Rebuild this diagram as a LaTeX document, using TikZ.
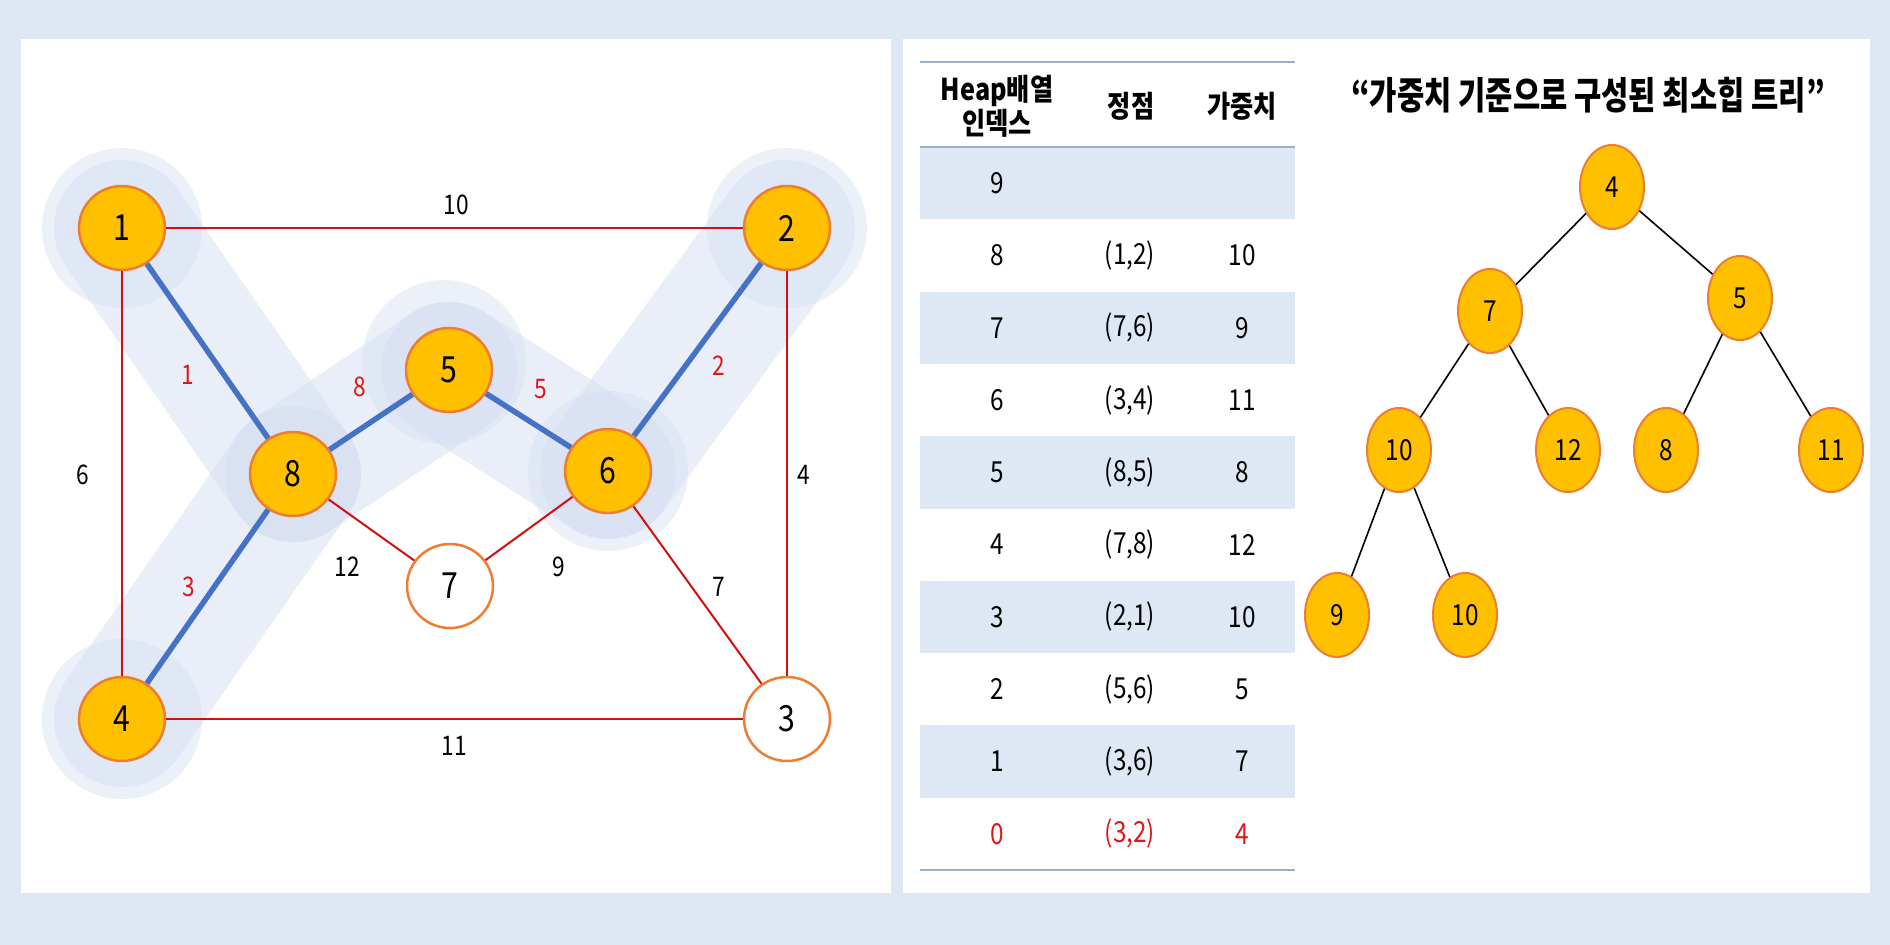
\documentclass[tikz,border=0pt]{standalone}
\usepackage{fontspec}
\setmainfont{Noto Sans CJK KR}[FakeStretch=0.84]
\newfontfamily\titlefont{Noto Sans CJK KR}[FakeStretch=0.78]
\usetikzlibrary{shapes.geometric}
\definecolor{bg}{RGB}{222,232,245}
\definecolor{bandc}{RGB}{214,223,242}
\definecolor{gold}{RGB}{255,192,0}
\definecolor{orng}{RGB}{237,125,49}
\definecolor{redl}{RGB}{210,16,16}
\definecolor{redt}{RGB}{222,24,24}
\definecolor{blueedge}{RGB}{68,114,196}
\definecolor{rulec}{RGB}{150,176,207}
\tikzset{
  gnode/.style={ellipse, draw=orng, line width=2.5pt, fill=gold, minimum width=86pt, minimum height=84pt, inner sep=0pt, font=\fontsize{36}{42}\selectfont},
  wnode/.style={gnode, fill=white},
  tnode/.style={ellipse, draw=orng, line width=2pt, fill=gold, minimum width=64pt, minimum height=84pt, inner sep=0pt, font=\fontsize{29}{34}\selectfont},
  rededge/.style={draw=redl, line width=2pt},
  blueedge/.style={draw=blueedge, line width=5.5pt},
  treeedge/.style={draw=black, line width=1.6pt},
  elab/.style={inner sep=0pt, font=\fontsize{27}{32}\selectfont},
  rlab/.style={elab, text=redt},
  band/.style={draw=bandc, line width=136pt, line cap=round, opacity=0.5},
  halo/.style={fill=bandc, opacity=0.45},
  cell/.style={inner sep=0pt, font=\fontsize{29}{34}\selectfont},
  hcell/.style={inner sep=0pt, align=center, font=\bfseries\fontsize{30}{34}\selectfont},
}
\begin{document}
\begin{tikzpicture}[x=1pt, y=-1pt]
% background and panels
\fill[bg] (0,0) rectangle (1890,945);
\useasboundingbox (0,0) rectangle (1890,945);
\fill[white] (21,39) rectangle (891,893);
\fill[white] (903,39) rectangle (1870,893);

% graph coordinates
\coordinate (p1) at (122,228);
\coordinate (p2) at (787,228);
\coordinate (p5) at (449,370);
\coordinate (p8) at (293,474);
\coordinate (p6) at (608,471);
\coordinate (p7) at (450,586);
\coordinate (p4) at (122,719);
\coordinate (p3) at (787,719);

% highlight bands
\draw[band] (p1) -- (p8);
\draw[band] (p8) -- (p4);
\draw[band] (p8) -- (p5);
\draw[band] (p5) -- (p6);
\draw[band] (p6) -- (p2);
\fill[halo] (p1) circle[radius=80];
\fill[halo] (p2) circle[radius=80];
\fill[halo] (p4) circle[radius=80];
\fill[halo] ([shift={(-5,-8)}]p5) circle[radius=82];
\fill[halo] (p6) circle[radius=80];

% nodes
\node[gnode] (n1) at (p1) {1};
\node[gnode] (n2) at (p2) {2};
\node[gnode] (n5) at (p5) {5};
\node[gnode] (n8) at (p8) {8};
\node[gnode] (n6) at (p6) {6};
\node[wnode] (n7) at (p7) {7};
\node[gnode] (n4) at (p4) {4};
\node[wnode] (n3) at (p3) {3};

% edges
\draw[rededge] (n1) -- (n2);
\draw[rededge] (n1) -- (n4);
\draw[rededge] (n2) -- (n3);
\draw[rededge] (n4) -- (n3);
\draw[rededge] (n8) -- (n7);
\draw[rededge] (n7) -- (n6);
\draw[rededge] (n6) -- (n3);
\draw[blueedge] (n1) -- (n8);
\draw[blueedge] (n8) -- (n5);
\draw[blueedge] (n5) -- (n6);
\draw[blueedge] (n6) -- (n2);
\draw[blueedge] (n8) -- (n4);

% edge labels
\node[elab] (l12a) at (456,205) {10};
\node[elab] (l14) at (83,475) {6};
\node[elab] (l23) at (804,475) {4};
\node[elab] (l43) at (454,746) {11};
\node[elab] (l87) at (347,567) {12};
\node[elab] (l76) at (559,567) {9};
\node[elab] (l63) at (719,587) {7};
\node[rlab] (l18) at (188,375) {1};
\node[rlab] (l85) at (360,387) {8};
\node[rlab] (l56) at (541,389) {5};
\node[rlab] (l62) at (719,366) {2};
\node[rlab] (l84) at (189,587) {3};

% table
\foreach \r in {0,2,4,6,8}
  \fill[bg] (920,{147+72.3*\r}) rectangle (1295,{147+72.3*(\r+1)});
\draw[rulec, line width=2pt] (920,62) -- (1295,62);
\draw[rulec, line width=2.7pt] (920,147) -- (1295,147);
\draw[rulec, line width=2pt] (920,870) -- (1295,870);
\node[hcell] (h1) at (997,106) {Heap배열\\인덱스};
\node[hcell] (h2) at (1131,106) {정점};
\node[hcell] (h3) at (1242,106) {가중치};
\foreach \i/\v/\w [count=\r from 0] in {9/{}/{},8/{(1,2)}/10,7/{(7,6)}/9,6/{(3,4)}/11,5/{(8,5)}/8,4/{(7,8)}/12,3/{(2,1)}/10,2/{(5,6)}/5,1/{(3,6)}/7}{
  \node[cell] (ta\r) at (997,{147+72.3*(\r+0.5)}) {\i};
  \node[cell] (tb\r) at (1130,{147+72.3*(\r+0.5)}) {\v};
  \node[cell] (tc\r) at (1242,{147+72.3*(\r+0.5)}) {\w};
}
\node[cell, text=redt] (ta9) at (997,{147+72.3*9.5}) {0};
\node[cell, text=redt] (tb9) at (1130,{147+72.3*9.5}) {(3,2)};
\node[cell, text=redt] (tc9) at (1242,{147+72.3*9.5}) {4};

% title
\node[inner sep=0pt, font=\titlefont\bfseries\fontsize{38}{44}\selectfont] (title) at (1588,95) {“가중치 기준으로 구성된 최소힙 트리”};

% tree
\node[tnode] (t4) at (1612,187) {4};
\node[tnode] (t7) at (1490,311) {7};
\node[tnode] (t5) at (1740,298) {5};
\node[tnode] (t10) at (1399,450) {10};
\node[tnode] (t12) at (1568,450) {12};
\node[tnode] (t8) at (1666,450) {8};
\node[tnode] (t11) at (1831,450) {11};
\node[tnode] (t9) at (1337,615) {9};
\node[tnode] (t10b) at (1465,615) {10};
\draw[treeedge] (t4) -- (t7);
\draw[treeedge] (t4) -- (t5);
\draw[treeedge] (t7) -- (t10);
\draw[treeedge] (t7) -- (t12);
\draw[treeedge] (t5) -- (t8);
\draw[treeedge] (t5) -- (t11);
\draw[treeedge] (t10) -- (t9);
\draw[treeedge] (t10) -- (t10b);
\end{tikzpicture}
\end{document}
